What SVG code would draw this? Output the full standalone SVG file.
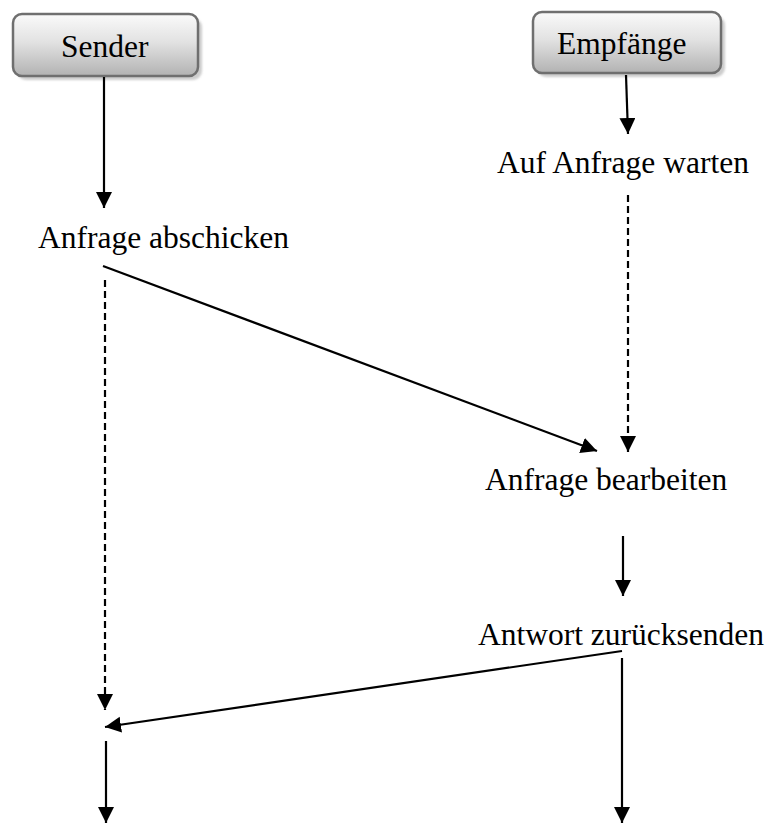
<svg xmlns="http://www.w3.org/2000/svg" width="770" height="823" viewBox="0 0 770 823">
  <style>
    .lbl { font-family: "Liberation Serif", "Times New Roman", serif; font-size: 31.5px; fill: #000; }
    .box { fill: url(#boxFill); stroke: #6f6f6f; stroke-width: 2.5; }
    .shadow { fill: #b8b8b8; opacity: 0.7; }
    .flow { stroke: #000; stroke-width: 2.2; fill: none; marker-end: url(#arrow); }
    .wait { stroke: #000; stroke-width: 2.2; fill: none; stroke-dasharray: 7 4; marker-end: url(#arrow); }
  </style>
  <defs>
    <linearGradient id="boxFill" x1="0" y1="0" x2="0" y2="1">
      <stop offset="0" stop-color="#fafafa"/>
      <stop offset="0.45" stop-color="#e2e2e2"/>
      <stop offset="1" stop-color="#b2b2b2"/>
    </linearGradient>
    <filter id="soft" x="-10%" y="-20%" width="120%" height="140%">
      <feGaussianBlur stdDeviation="1.2"/>
    </filter>
    <marker id="arrow" markerUnits="userSpaceOnUse" markerWidth="17" markerHeight="17" refX="16" refY="8" orient="auto">
      <path d="M0,0 L16,8 L0,16 z" fill="#000"/>
    </marker>
  </defs>

  <rect width="770" height="823" fill="#fff"/>

  <!-- lifeline heads -->
  <g id="sender">
    <rect class="shadow" x="17" y="18" width="185" height="62" rx="9" filter="url(#soft)"/>
    <rect class="box" x="13" y="14" width="185" height="62" rx="9"/>
    <text class="lbl" x="61" y="57">Sender</text>
  </g>
  <g id="empfaenger">
    <rect class="shadow" x="537" y="16" width="188" height="61" rx="9" filter="url(#soft)"/>
    <rect class="box" x="533" y="12" width="188" height="61" rx="9"/>
    <text class="lbl" x="557" y="54">Empfänge</text>
  </g>

  <!-- steps -->
  <g id="auf-anfrage-warten">
    <text class="lbl" x="497" y="173">Auf Anfrage warten</text>
  </g>
  <g id="anfrage-abschicken">
    <text class="lbl" x="38" y="248">Anfrage abschicken</text>
  </g>
  <g id="anfrage-bearbeiten">
    <text class="lbl" x="485" y="490">Anfrage bearbeiten</text>
  </g>
  <g id="antwort-zuruecksenden">
    <text class="lbl" x="478" y="645">Antwort zurücksenden</text>
  </g>

  <!-- connectors -->
  <g id="connectors">
    <line class="flow" x1="104" y1="77" x2="104" y2="208"/>
    <line class="flow" x1="626" y1="75" x2="628" y2="134"/>
    <line class="wait" x1="628" y1="195" x2="628" y2="452"/>
    <line class="flow" x1="103" y1="266" x2="597" y2="451"/>
    <line class="wait" x1="105" y1="280" x2="105" y2="710"/>
    <line class="flow" x1="623" y1="536" x2="623" y2="596"/>
    <line class="flow" x1="622" y1="651" x2="105" y2="727"/>
    <line class="flow" x1="106" y1="741" x2="106" y2="823"/>
    <line class="flow" x1="622" y1="658" x2="622" y2="823"/>
  </g>
</svg>
